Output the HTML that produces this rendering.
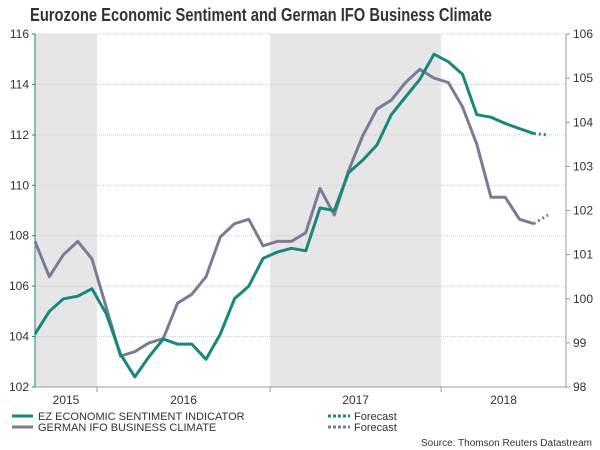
<!DOCTYPE html>
<html><head><meta charset="utf-8"><style>
html,body{margin:0;padding:0;background:#fff;width:600px;height:450px;overflow:hidden}
svg{display:block;font-family:"Liberation Sans",Arial,sans-serif}
</style></head><body>
<svg id="chart" width="600" height="450" viewBox="0 0 600 450">
<text x="261" y="21" text-anchor="middle" font-size="18" font-weight="bold" fill="#333" textLength="462" lengthAdjust="spacingAndGlyphs">Eurozone Economic Sentiment and German IFO Business Climate</text>
<g id="shade"></g><g id="grid"></g><g id="axes"></g><g id="series"></g>
<g font-size="11" fill="#333">
<line x1="12" y1="416" x2="33" y2="416" stroke="#17887a" stroke-width="3"/>
<text x="38" y="420">EZ ECONOMIC SENTIMENT INDICATOR</text>
<line x1="12" y1="427" x2="33" y2="427" stroke="#7b7b98" stroke-width="3"/>
<text x="38" y="431">GERMAN IFO BUSINESS CLIMATE</text>
<line x1="328" y1="416" x2="350" y2="416" stroke="#17887a" stroke-width="3" stroke-dasharray="3,2"/>
<text x="354" y="420">Forecast</text>
<line x1="328" y1="427" x2="350" y2="427" stroke="#7b7b98" stroke-width="3" stroke-dasharray="3,2"/>
<text x="354" y="431">Forecast</text>
</g>
<text x="592" y="446" text-anchor="end" font-size="10" fill="#333">Source: Thomson Reuters Datastream</text>
</svg>
<script>
const ezValues=[104.1,105.0,105.5,105.6,105.9,104.9,103.3,102.4,103.2,103.9,103.7,103.7,103.1,104.1,105.5,106.0,107.1,107.35,107.5,107.4,109.1,109.0,110.5,111.0,111.6,112.8,113.5,114.2,115.2,114.9,114.4,112.8,112.7,112.45,112.25,112.05];
const ezForecast=[112.05,112.0];
const ifoValues=[101.3,100.5,101.0,101.3,100.9,99.8,98.7,98.8,99.0,99.1,99.9,100.1,100.5,101.4,101.7,101.8,101.2,101.3,101.3,101.5,102.5,101.9,102.9,103.7,104.3,104.5,104.9,105.2,105.0,104.9,104.35,103.5,102.3,102.3,101.8,101.7];
const ifoForecast=[101.7,101.9];
const years=["2015","2016","2017","2018"];
const yearStarts=[-1,4.35,16.5,28.5,37.3];
const leftTicks=[102,104,106,108,110,112,114,116];
const rightTicks=[98,99,100,101,102,103,104,105,106];
const X0=35,X1=566,Y0=34,Y1=387,DX=14.25;
const xs=i=>X0+i*DX;
const yl=v=>Y1-(v-102)/14*(Y1-Y0);
const yr=v=>Y1-(v-98)/8*(Y1-Y0);
const NS="http://www.w3.org/2000/svg";
function mk(tag,attrs,parent){const e=document.createElementNS(NS,tag);for(const k in attrs)e.setAttribute(k,attrs[k]);document.getElementById(parent).appendChild(e);return e;}
const cl=v=>Math.max(X0,Math.min(X1,v));
years.forEach((y,k)=>{
 const a=cl(xs(yearStarts[k])),b=cl(xs(yearStarts[k+1]));
 if(k%2===0){const r=mk('rect',{x:a,y:Y0,width:b-a,height:Y1-Y0,fill:'#e6e6e6'},'shade');
 
 }
 const t=mk('text',{x:(a+b)/2,y:Y1+17,'text-anchor':'middle','font-size':12,fill:'#333'},'axes');t.textContent=y;
 
 
 if(k>0){const tk=mk('line',{x1:a,x2:a,y1:Y1,y2:Y1+5,stroke:'#999'},'axes');
 
 }
});
leftTicks.forEach(v=>{
 const g=mk('line',{x1:X0,x2:X1,y1:yl(v),y2:yl(v),stroke:'#ccc','stroke-dasharray':'1,1'},'grid');
 
 
 const t=mk('text',{x:X0-6,y:yl(v)+4,'text-anchor':'end','font-size':12,fill:'#333'},'axes');t.textContent=v;
 
 
 mk('line',{x1:X0-3,x2:X0,y1:yl(v),y2:yl(v),stroke:'#17887a'},'axes');
});
rightTicks.forEach(v=>{
 const t=mk('text',{x:X1+7,y:yr(v)+4,'font-size':12,fill:'#333'},'axes');t.textContent=v;
 
 
 mk('line',{x1:X1,x2:X1+4,y1:yr(v),y2:yr(v),stroke:'#999'},'axes');
});
const la=mk('line',{x1:X0,x2:X0,y1:Y0,y2:Y1,stroke:'#17887a'},'axes');


const ra=mk('line',{x1:X1,x2:X1,y1:Y0,y2:Y1,stroke:'#999'},'axes');


const ba=mk('line',{x1:X0,x2:X1,y1:Y1,y2:Y1,stroke:'#999'},'axes');


function line(vals,off,yf,col,dash,name){
 const d=vals.map((v,i)=>(i?'L':'M')+xs(i+off).toFixed(1)+','+yf(v).toFixed(1)).join('');
 const p=mk('path',{d:d,fill:'none',stroke:col,'stroke-width':3,'stroke-linejoin':'round'},'series');
 if(dash)p.setAttribute('stroke-dasharray','2,3');
 
 
}
line(ifoValues,0,yr,'#7b7b98',false,'ifo-line');
line(ifoForecast,ifoValues.length-1,yr,'#7b7b98',true,'ifo-forecast-line');
line(ezValues,0,yl,'#17887a',false,'ez-line');
line(ezForecast,ezValues.length-1,yl,'#17887a',true,'ez-forecast-line');
</script>
</body></html>
